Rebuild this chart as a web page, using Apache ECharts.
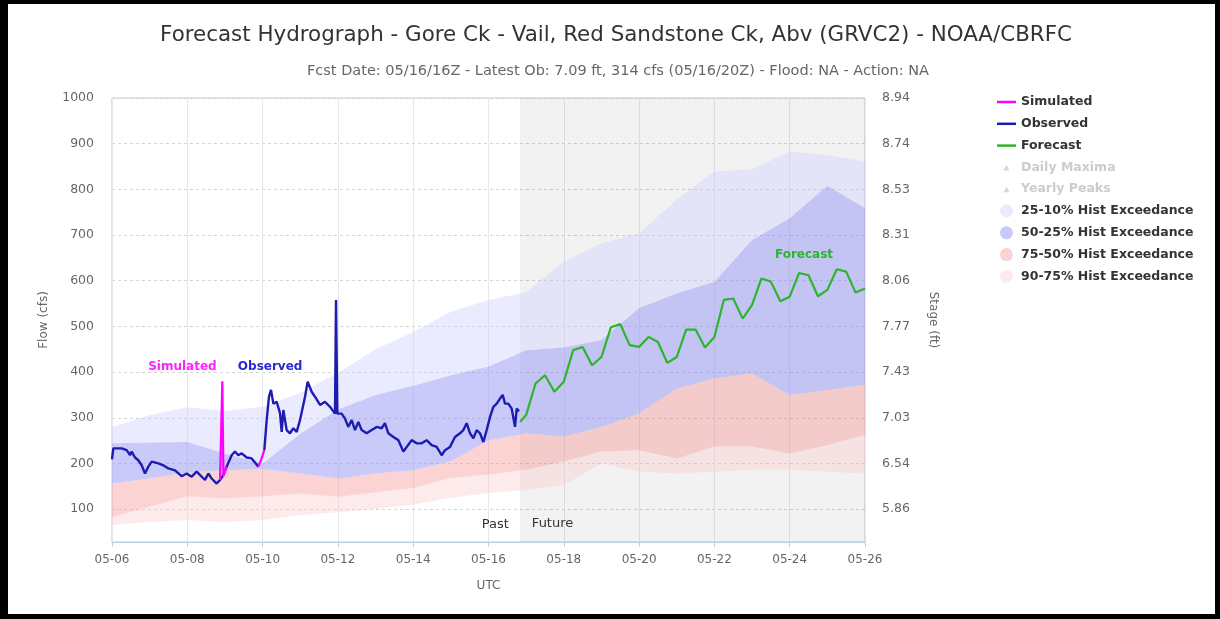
<!DOCTYPE html>
<html>
<head>
<meta charset="utf-8">
<script src="https://cdn.jsdelivr.net/npm/echarts@6/dist/echarts.min.js"></script>
<style>
  html, body { margin: 0; padding: 0; background: #fff; }
  #c { position: absolute; left: 0; top: 0; width: 1220px; height: 619px; }
  #frame { position: absolute; left: 0; top: 0; width: 1220px; height: 619px; box-sizing: border-box;
           border-left: 8px solid #000; border-top: 4px solid #000; border-right: 5px solid #000; border-bottom: 5px solid #000;
           pointer-events: none; }
</style>
</head>
<body>
<div id="c"></div>
<div id="frame"></div>
<script>
// ---------- DATA (x = days since 05-06 00Z) ----------
const xTickLabels = ['05-06','05-08','05-10','05-12','05-14','05-16','05-18','05-20','05-22','05-24','05-26'];
const flowTicks = [100,200,300,400,500,600,700,800,900,1000];
const stageLabels = ['5.86','6.54','7.03','7.43','7.77','8.06','8.31','8.53','8.74','8.94'];
const nowDay = 10.833; // 05/16 20Z

const bandDays = [0,1,2,3,4,5,6,7,8,9,10,11,12,13,14,15,16,17,18,19,20];
const p10 = [280,306,323,315,324,355,398,450,488,532,558,575,642,682,704,777,839,844,883,875,861];
const p25 = [244,246,247,222,200,265,318,350,370,393,412,448,454,470,540,572,598,689,737,808,759];
const p50 = [156,167,180,185,188,178,167,178,185,205,250,266,259,280,310,364,386,397,350,361,372];
const p75 = [83,105,128,123,128,134,127,137,146,168,176,186,204,226,229,211,237,237,222,240,262];
const p90 = [65,72,76,72,76,87,93,100,110,125,135,142,153,200,182,178,182,186,186,182,178];

const obsDays = [0.0,0.035,0.257,0.39,0.478,0.522,0.611,0.699,0.788,0.876,0.965,1.054,1.231,1.363,1.496,1.673,1.85,1.983,2.116,2.248,2.381,2.47,2.559,2.647,2.78,2.869,2.93,3.046,3.178,3.267,3.355,3.444,3.577,3.71,3.887,3.95,4.046,4.108,4.17,4.223,4.285,4.374,4.462,4.507,4.551,4.639,4.728,4.817,4.905,4.994,5.127,5.197,5.303,5.392,5.525,5.657,5.79,5.923,5.95,5.985,6.1,6.188,6.277,6.366,6.454,6.543,6.631,6.764,6.897,7.03,7.162,7.25,7.339,7.472,7.605,7.738,7.827,7.959,8.092,8.225,8.357,8.49,8.623,8.756,8.845,8.977,9.11,9.243,9.332,9.42,9.509,9.598,9.686,9.775,9.863,9.952,10.041,10.129,10.218,10.306,10.377,10.439,10.527,10.616,10.704,10.749,10.81];
const obsFlow = [209,233,233,229,218,226,213,207,196,178,193,204,200,196,189,185,172,178,171,182,171,164,178,167,156,164,171,193,218,226,218,222,213,211,193,null,229,295,346,361,331,335,310,269,317,273,266,277,269,295,346,379,357,346,328,335,324,309,558,309,309,298,280,295,273,291,273,266,273,280,277,288,266,258,251,226,236,251,244,244,251,240,236,218,229,236,258,266,273,288,266,255,273,266,247,273,302,324,331,342,350,331,331,320,280,320,314];

const simDays = [2.869,2.93,2.96,3.046,3.5,3.887,3.975,4.046];
const simFlow = [164,380,172,193,null,193,211,229];

const fcstDays = [10.84,11,11.25,11.5,11.75,12,12.25,12.5,12.75,13,13.25,13.5,13.75,14,14.25,14.5,14.75,15,15.25,15.5,15.75,16,16.25,16.5,16.75,17,17.25,17.5,17.75,18,18.25,18.5,18.75,19,19.25,19.5,19.75,20];
const fcstFlow = [291,306,375,393,357,379,448,455,415,433,498,505,459,455,477,466,420,433,493,493,454,477,558,561,517,547,605,598,555,565,617,612,566,580,625,620,574,583];

// annotation anchors (data units)
const simLabelAt = [1.87, 412];
const obsLabelAt = [4.2, 412];
const fcstLabelAt = [18.38, 656];

// ---------- helpers ----------
const pairs = (xs, ys) => xs.map((x, i) => [x, ys[i]]);
const FONT = '"DejaVu Sans", Verdana, sans-serif';

const C_SIM = '#ff00ff', C_OBS = '#1c1cb0', C_FC = '#2cb52c';
const C_B1 = 'rgba(210,210,255,0.45)';  // 25-10
const C_B2 = 'rgba(150,150,245,0.5)';   // 50-25
const C_B3 = 'rgba(245,150,150,0.42)';  // 75-50
const C_B4 = 'rgba(250,205,205,0.42)';  // 90-75

const chart = echarts.init(document.getElementById('c'), null, {renderer: 'canvas', width: 1220, height: 619});

function bandSeries(name, lo, hi, color) {
  return {
    name, type: 'custom', color, itemStyle: {color}, z: 2, silent: true,
    data: [[bandDays[0], lo[0]]],
    renderItem: (params, api) => {
      const pts = [];
      for (let i = 0; i < bandDays.length; i++) pts.push(api.coord([bandDays[i], hi[i]]));
      for (let i = bandDays.length - 1; i >= 0; i--) pts.push(api.coord([bandDays[i], lo[i]]));
      return {type: 'polygon', shape: {points: pts}, style: {fill: color, stroke: null}};
    }
  };
}

const triIcon = 'path://M0 0M19 12M6.5 9L9.5 3.5L12.5 9Z';
const lineIcon = 'path://M0 0L19 0L19 2.5L0 2.5Z';

const option = {
  animation: false,
  backgroundColor: '#fff',
  textStyle: {fontFamily: FONT},
  graphic: [
    {type: 'text', x: 616, y: 35, style: {text: 'Forecast Hydrograph - Gore Ck - Vail, Red Sandstone Ck, Abv (GRVC2) - NOAA/CBRFC',
      font: '21.4px ' + FONT, fill: '#333', textAlign: 'center', textVerticalAlign: 'middle'}},
    {type: 'text', x: 618, y: 71, style: {text: 'Fcst Date: 05/16/16Z - Latest Ob: 7.09 ft, 314 cfs (05/16/20Z) - Flood: NA - Action: NA',
      font: '14.5px ' + FONT, fill: '#666', textAlign: 'center', textVerticalAlign: 'middle'}}
  ],
  grid: {left: 112, right: 355, top: 98, bottom: 77, show: true, borderColor: '#c8c8c8', borderWidth: 1, backgroundColor: 'transparent'},
  legend: {
    orient: 'vertical', left: 997, top: 95, padding: 0,
    itemWidth: 19, itemHeight: 13, itemGap: 7.8,
    inactiveColor: '#cccccc',
    textStyle: {fontFamily: FONT, fontSize: 12.5, fontWeight: 'bold', color: '#333', lineHeight: 14},
    data: [
      {name: 'Simulated', icon: lineIcon}, {name: 'Observed', icon: lineIcon}, {name: 'Forecast', icon: lineIcon},
      {name: 'Daily Maxima', icon: triIcon}, {name: 'Yearly Peaks', icon: triIcon},
      {name: '25-10% Hist Exceedance', icon: 'circle'},
      {name: '50-25% Hist Exceedance', icon: 'circle'},
      {name: '75-50% Hist Exceedance', icon: 'circle'},
      {name: '90-75% Hist Exceedance', icon: 'circle'}
    ],
    selected: {'Daily Maxima': false, 'Yearly Peaks': false}
  },
  xAxis: {
    type: 'value', min: 0, max: 20, interval: 2,
    name: 'UTC', nameLocation: 'middle', nameGap: 38,
    nameTextStyle: {color: '#666', fontSize: 12, fontFamily: FONT},
    axisLine: {show: true, lineStyle: {color: '#c0d0e0'}},
    axisTick: {show: true, length: 5, lineStyle: {color: '#c0d0e0'}},
    axisLabel: {color: '#666', fontSize: 12, margin: 12, fontFamily: FONT, formatter: v => xTickLabels[Math.round(v / 2)]},
    splitLine: {show: true, lineStyle: {color: '#e6e6ee', width: 1}}
  },
  yAxis: [
    {
      type: 'value', min: 28, max: 1000, position: 'left',
      name: 'Flow (cfs)', nameLocation: 'middle', nameGap: 62,
      nameTextStyle: {color: '#666', fontSize: 12, fontFamily: FONT},
      axisLine: {show: false}, axisTick: {show: false, customValues: flowTicks},
      axisLabel: {customValues: flowTicks, color: '#666', fontSize: 12.5, margin: 18, fontFamily: FONT, formatter: v => String(v)},
      splitLine: {show: true, lineStyle: {color: '#d4d4d4', type: [3, 3]}}
    },
    {
      type: 'value', min: 28, max: 1000, position: 'right',
      name: 'Stage (ft)', nameLocation: 'middle', nameGap: 62, nameRotate: -90,
      nameTextStyle: {color: '#666', fontSize: 12, fontFamily: FONT},
      axisLine: {show: false}, axisTick: {show: false, customValues: flowTicks},
      axisLabel: {customValues: flowTicks, color: '#666', fontSize: 12.5, margin: 17, fontFamily: FONT,
        formatter: v => stageLabels[flowTicks.indexOf(v)]},
      splitLine: {show: false}
    }
  ],
  series: [
    {
      name: 'pastFuture', type: 'line', data: [], symbol: 'none', z: 1, silent: true,
      markArea: {
        silent: true,
        data: [
          [{xAxis: 0, itemStyle: {color: 'rgba(0,0,0,0)'},
            label: {show: true, position: 'insideBottomRight', formatter: 'Past', color: '#333', fontSize: 13, fontFamily: FONT, distance: 11}},
           {xAxis: nowDay}],
          [{xAxis: nowDay, itemStyle: {color: 'rgba(0,0,0,0.05)'},
            label: {show: true, position: 'insideBottomLeft', formatter: 'Future', color: '#333', fontSize: 13, fontFamily: FONT, distance: 12}},
           {xAxis: 20}]
        ]
      }
    },
    bandSeries('90-75% Hist Exceedance', p90, p75, C_B4),
    bandSeries('75-50% Hist Exceedance', p75, p50, C_B3),
    bandSeries('50-25% Hist Exceedance', p50, p25, C_B2),
    bandSeries('25-10% Hist Exceedance', p25, p10, C_B1),
    {
      name: 'Observed', type: 'line', data: pairs(obsDays, obsFlow), symbol: 'none', color: C_OBS,
      lineStyle: {width: 2.4, color: C_OBS}, z: 4, connectNulls: false,
      markPoint: {symbol: 'rect', symbolSize: 1, itemStyle: {color: 'rgba(0,0,0,0)'},
        label: {show: true, position: 'inside', formatter: p => p.name, color: '#2a2ad0', fontWeight: 'bold', fontSize: 12, fontFamily: FONT},
        data: [{name: 'Observed', coord: obsLabelAt}]}
    },
    {
      name: 'Simulated', type: 'line', data: pairs(simDays, simFlow), symbol: 'none', color: C_SIM,
      lineStyle: {width: 2.2, color: C_SIM}, z: 5, connectNulls: false,
      markPoint: {symbol: 'rect', symbolSize: 1, itemStyle: {color: 'rgba(0,0,0,0)'},
        label: {show: true, position: 'inside', formatter: p => p.name, color: '#ff22ff', fontWeight: 'bold', fontSize: 12, fontFamily: FONT},
        data: [{name: 'Simulated', coord: simLabelAt}]}
    },
    {
      name: 'Forecast', type: 'line', data: pairs(fcstDays, fcstFlow), symbol: 'none', color: C_FC,
      lineStyle: {width: 2.2, color: C_FC}, z: 4,
      markPoint: {symbol: 'rect', symbolSize: 1, itemStyle: {color: 'rgba(0,0,0,0)'},
        label: {show: true, position: 'inside', formatter: p => p.name, color: '#2cb52c', fontWeight: 'bold', fontSize: 12, fontFamily: FONT},
        data: [{name: 'Forecast', coord: fcstLabelAt}]}
    },
    {name: 'Daily Maxima', type: 'scatter', data: [], symbol: 'triangle', color: '#888'},
    {name: 'Yearly Peaks', type: 'scatter', data: [], symbol: 'triangle', color: '#888'}
  ]
};
chart.setOption(option);
</script>
</body>
</html>
